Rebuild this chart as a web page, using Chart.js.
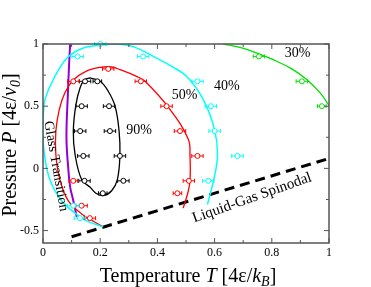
<!DOCTYPE html>
<html>
<head>
<meta charset="utf-8">
<script src="https://cdn.jsdelivr.net/npm/chart.js@4.4.1/dist/chart.umd.min.js"></script>
<style>
  body { margin: 0; background: #fff; }
  #wrap { width: 371px; height: 287px; }
</style>
</head>
<body>
<div id="wrap"><canvas id="phaseChart"></canvas></div>
<script>
// axis ticks
const xTicks = [0, 0.2, 0.4, 0.6, 0.8, 1]
const xMinor = [0.1, 0.3, 0.5, 0.7, 0.9]
const yTicks = [-0.5, 0, 0.5, 1]
const yMinor = [-0.25, 0.25, 0.75]

// measured points: temperature, pressure, error in T
const t30 = [0.755, 0.905, 0.975]
const p30 = [0.9, 0.7, 0.5]
const e30 = [0.02, 0.02, 0.015]

const t40 = [0.121, 0.2, 0.35, 0.54, 0.587, 0.6, 0.68, 0.578, 0.106, 0.129]
const p40 = [0.9, 1.0, 0.9, 0.7, 0.5, 0.3, 0.1, -0.1, -0.3, -0.4]
const e40 = [0.02, 0.02, 0.02, 0.02, 0.02, 0.02, 0.02, 0.02, 0.02, 0.02]

const t50 = [0.106, 0.228, 0.342, 0.432, 0.479, 0.54, 0.51, 0.47, 0.106, 0.135, 0.164]
const p50 = [0.7, 0.8, 0.7, 0.5, 0.3, 0.1, -0.1, -0.2, -0.1, -0.3, -0.4]
const e50 = [0.02, 0.02, 0.02, 0.02, 0.02, 0.02, 0.02, 0.015, 0.015, 0.02, 0.02]

const t90 = [0.147, 0.19, 0.135, 0.231, 0.13, 0.234, 0.141, 0.269, 0.145, 0.281, 0.209]
const p90 = [0.7, 0.7, 0.5, 0.5, 0.3, 0.3, 0.1, 0.1, -0.1, -0.1, -0.2]
const e90 = [0.02, 0.015, 0.02, 0.02, 0.02, 0.02, 0.02, 0.02, 0.02, 0.02, 0.015]

// fitted curves
const fit30T = [0.63, 0.689, 0.75, 0.805, 0.87, 0.922, 0.969, 1.0]
const fit30P = [1.0, 0.972, 0.925, 0.874, 0.8, 0.714, 0.607, 0.506]

const fit40T = [0.21, 0.15, 0.118, 0.065, 0.024, 0.005, 0.0, 0.004, 0.036, 0.085, 0.141, 0.2, 0.26, 0.32, 0.386, 0.45, 0.502, 0.56, 0.6, 0.61, 0.596, 0.575]
const fit40P = [-0.47, -0.42, -0.37, -0.26, -0.09, 0.11, 0.3, 0.525, 0.714, 0.89, 0.968, 0.99, 1.0, 0.975, 0.9, 0.82, 0.74, 0.554, 0.31, 0.1, -0.1, -0.29]

const fit50T = [0.21, 0.135, 0.088, 0.059, 0.045, 0.045, 0.057, 0.077, 0.106, 0.15, 0.2, 0.24, 0.269, 0.327, 0.357, 0.444, 0.508, 0.514, 0.514, 0.506, 0.49]
const fit50P = [-0.47, -0.366, -0.26, -0.09, 0.11, 0.3, 0.475, 0.61, 0.71, 0.78, 0.812, 0.815, 0.794, 0.74, 0.7, 0.474, 0.234, 0.1, -0.1, -0.2, -0.32]

const fit90T = [0.164, 0.2, 0.228, 0.252, 0.266, 0.269, 0.26, 0.24, 0.211, 0.185, 0.164, 0.135, 0.112, 0.106, 0.115, 0.13, 0.145, 0.164]
const fit90P = [0.728, 0.70, 0.62, 0.5, 0.3, 0.11, -0.09, -0.18, -0.219, -0.2, -0.15, -0.09, 0.114, 0.3, 0.51, 0.65, 0.71, 0.728]

const glassT = [0.095, 0.092, 0.087, 0.082, 0.088, 0.095, 0.106, 0.118]
const glassP = [1.0, 0.874, 0.6, 0.25, 0.01, -0.15, -0.26, -0.39]

const spinodalT = [0.1, 1.0]
const spinodalP = [-0.55, 0.08]

function pts(ts, ps) {
    return ts.map((t, i) => ({ x: t, y: ps[i] }))
}

const serif = "'Liberation Serif', 'DejaVu Serif', serif"

function fitLine(ts, ps, color, width) {
    return {
        data: pts(ts, ps), showLine: true, pointRadius: 0, borderColor: color,
        borderWidth: width, tension: 0.4, fill: false, order: 2
    }
}

function measured(ts, ps, errs, color) {
    return {
        data: pts(ts, ps), errX: errs, showLine: false, pointRadius: 2.5,
        pointStyle: 'circle', borderColor: color, backgroundColor: '#fff',
        pointBorderWidth: 1, clip: false, order: 1
    }
}

const errorBars = {
    id: 'errorBars',
    beforeDatasetDraw(chart, args) {
        const ds = chart.data.datasets[args.index]
        if (!ds.errX) return
        const ctx = chart.ctx
        const sx = chart.scales.x, sy = chart.scales.y
        ctx.save()
        ctx.strokeStyle = ds.borderColor
        ctx.lineWidth = 1
        ds.data.forEach((p, i) => {
            const x0 = sx.getPixelForValue(p.x - ds.errX[i])
            const x1 = sx.getPixelForValue(p.x + ds.errX[i])
            const py = sy.getPixelForValue(p.y)
            ctx.beginPath()
            ctx.moveTo(x0, py); ctx.lineTo(x1, py)
            ctx.moveTo(x0, py - 2); ctx.lineTo(x0, py + 2)
            ctx.moveTo(x1, py - 2); ctx.lineTo(x1, py + 2)
            ctx.stroke()
        })
        ctx.restore()
    }
}

function richText(ctx, parts, size) {
    // parts: [text, style], style n = normal, i = italic, s = subscript
    const fontOf = s => s === 'n' ? size + 'px ' + serif : s === 'i' ? 'italic ' + size + 'px ' + serif : 'italic ' + Math.round(size * 0.68) + 'px ' + serif
    let total = 0
    parts.forEach(p => { ctx.font = fontOf(p[1]); total += ctx.measureText(p[0]).width })
    let x = -total / 2
    parts.forEach(p => {
        ctx.font = fontOf(p[1])
        ctx.fillText(p[0], x, p[1] === 's' ? size * 0.2 : 0)
        x += ctx.measureText(p[0]).width
    })
}

const decorations = {
    id: 'decorations',
    afterDatasetsDraw(chart) {
        const ctx = chart.ctx
        const a = chart.chartArea
        const sx = chart.scales.x, sy = chart.scales.y
        ctx.save()
        // frame
        ctx.strokeStyle = '#555'
        ctx.lineWidth = 1.5
        ctx.strokeRect(a.left, a.top, a.right - a.left, a.bottom - a.top)
        // inward ticks on all four sides
        ctx.lineWidth = 1
        const tickX = (v, len) => {
            const px = sx.getPixelForValue(v)
            ctx.beginPath()
            ctx.moveTo(px, a.bottom); ctx.lineTo(px, a.bottom - len)
            ctx.moveTo(px, a.top); ctx.lineTo(px, a.top + len)
            ctx.stroke()
        }
        const tickY = (v, len) => {
            const py = sy.getPixelForValue(v)
            ctx.beginPath()
            ctx.moveTo(a.left, py); ctx.lineTo(a.left + len, py)
            ctx.moveTo(a.right, py); ctx.lineTo(a.right - len, py)
            ctx.stroke()
        }
        xTicks.forEach(v => tickX(v, 5))
        xMinor.forEach(v => tickX(v, 3))
        yTicks.forEach(v => tickY(v, 5))
        yMinor.forEach(v => tickY(v, 3))

        // curve labels, placed in data coordinates
        ctx.fillStyle = '#000'
        ctx.textAlign = 'center'
        ctx.textBaseline = 'middle'
        ctx.font = '14px ' + serif
        const labels = [['30%', 0.89, 0.926], ['40%', 0.643, 0.658], ['50%', 0.495, 0.59], ['90%', 0.336, 0.306]]
        labels.forEach(l => ctx.fillText(l[0], sx.getPixelForValue(l[1]), sy.getPixelForValue(l[2])))

        ctx.save()
        ctx.translate(sx.getPixelForValue(0.045), sy.getPixelForValue(0.018))
        ctx.rotate(80 * Math.PI / 180)
        ctx.fillText('Glass Transition', 0, 0)
        ctx.restore()

        ctx.save()
        ctx.font = '15px ' + serif
        ctx.translate(sx.getPixelForValue(0.731), sy.getPixelForValue(-0.238))
        ctx.rotate(-19.5 * Math.PI / 180)
        ctx.fillText('Liquid-Gas Spinodal', 0, 0)
        ctx.restore()

        // axis titles
        ctx.textAlign = 'left'
        ctx.textBaseline = 'alphabetic'
        ctx.save()
        ctx.translate((a.left + a.right) / 2 + 2, 282)
        richText(ctx, [['Temperature ', 'n'], ['T', 'i'], [' [4\u03b5/', 'n'], ['k', 'i'], ['B', 's'], [']', 'n']], 20)
        ctx.restore()

        ctx.save()
        ctx.translate(16, 145)
        ctx.rotate(-Math.PI / 2)
        richText(ctx, [['Pressure ', 'n'], ['P', 'i'], [' [4\u03b5/', 'n'], ['v', 'i'], ['0', 's'], [']', 'n']], 20)
        ctx.restore()

        ctx.restore()
    }
}

const tickLabel = v => v === 0 ? '0' : v === 1 ? '1' : String(v)

let ctx = document.getElementById('phaseChart').getContext('2d')
let phaseChart = new Chart(ctx, {
    type: 'scatter',
    data: {
        datasets: [
            measured(t30, p30, e30, '#00e000'),
            measured(t40, p40, e40, '#00ffff'),
            measured(t50, p50, e50, '#ff0000'),
            measured(t90, p90, e90, '#000000'),
            fitLine(fit30T, fit30P, '#00e000', 1.3),
            fitLine(fit40T, fit40P, '#00ffff', 1.5),
            fitLine(fit50T, fit50P, '#ff0000', 1.3),
            fitLine(fit90T, fit90P, '#000000', 1.3),
            fitLine(glassT, glassP, '#9400d3', 2),
            {
                data: pts(spinodalT, spinodalP), showLine: true, pointRadius: 0,
                borderColor: '#000', borderWidth: 3, borderDash: [10, 6], order: 2
            }
        ]
    },
    options: {
        responsive: true,
        maintainAspectRatio: false,
        animation: false,
        layout: { padding: { top: 44, right: 42, left: 0, bottom: 0 } },
        plugins: { legend: { display: false }, tooltip: { enabled: false } },
        scales: {
            x: {
                type: 'linear', min: 0, max: 1,
                afterFit: s => { s.height = 44 },
                afterBuildTicks: s => { s.ticks = xTicks.map(v => ({ value: v })) },
                grid: { display: false, drawTicks: false },
                border: { display: false },
                ticks: { color: '#000', padding: 3, maxRotation: 0, font: { family: serif, size: 12 }, callback: tickLabel }
            },
            y: {
                type: 'linear', min: -0.6, max: 1,
                afterFit: s => { s.width = 43 },
                afterBuildTicks: s => { s.ticks = yTicks.map(v => ({ value: v })) },
                grid: { display: false, drawTicks: false },
                border: { display: false },
                ticks: { color: '#000', padding: 4, font: { family: serif, size: 12 }, callback: tickLabel }
            }
        }
    },
    plugins: [errorBars, decorations]
})
</script>
</body>
</html>
